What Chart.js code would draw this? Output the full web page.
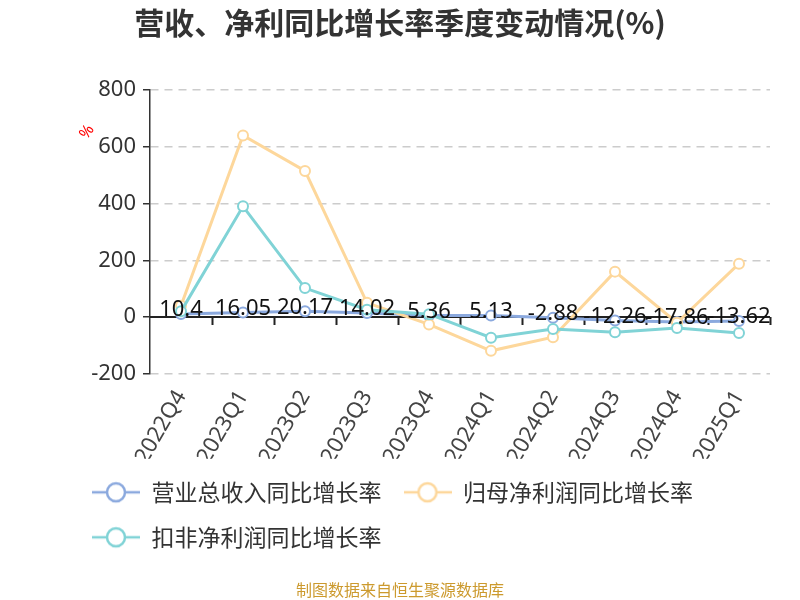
<!DOCTYPE html>
<html>
<head>
<meta charset="utf-8">
<script src="https://cdn.jsdelivr.net/npm/chart.js@4.4.0/dist/chart.umd.min.js"></script>
<style>
html, body { margin: 0; padding: 0; background: #fff; }
</style>
</head>
<body>
<canvas id="growth" width="800" height="600"></canvas>
<script>
// quarters and growth rates (%)
var quarters = ["2022Q4", "2023Q1", "2023Q2", "2023Q3", "2023Q4", "2024Q1", "2024Q2", "2024Q3", "2024Q4", "2025Q1"];
var revenueGrowth = [10.4, 16.05, 20.17, 14.02, 5.36, 5.13, -2.88, -12.26, -17.86, -13.62];
var netProfitGrowth = [40, 640, 515, 50, -26, -119, -71, 160, -20, 188];
var deductedProfitGrowth = [20, 390, 102, 26, 10, -73, -42, -54, -39, -56];
var yTicks = [-200, 0, 200, 400, 600, 800];

var seriesNames = ["营业总收入同比增长率", "归母净利润同比增长率", "扣非净利润同比增长率"];
var seriesColors = ["#8BA9DE", "#FDD79B", "#80D3D6"];

function makeIcon(color) {
    var c = document.createElement("canvas");
    c.width = 48;
    c.height = 24;
    var g = c.getContext("2d");
    g.strokeStyle = color;
    g.lineWidth = 2.5;
    g.beginPath();
    g.moveTo(0, 12);
    g.lineTo(48, 12);
    g.stroke();
    g.beginPath();
    g.arc(24, 12, 9, 0, Math.PI * 2);
    g.fillStyle = "#fff";
    g.fill();
    g.stroke();
    return c;
}
var icons = seriesColors.map(makeIcon);

// x axis drawn on the zero line, with ticks between categories
var zeroAxis = {
    id: "zeroAxis",
    beforeDatasetsDraw: function(chart) {
        var xs = chart.scales.x, ys = chart.scales.y, ctx = chart.ctx;
        var y0 = ys.getPixelForValue(0);
        var half = (xs.getPixelForValue(1) - xs.getPixelForValue(0)) / 2;
        ctx.save();
        ctx.strokeStyle = "#222";
        ctx.lineWidth = 2;
        ctx.beginPath();
        ctx.moveTo(chart.chartArea.left, y0);
        ctx.lineTo(chart.chartArea.right, y0);
        for (var i = 0; i < quarters.length; i++) {
            var px = Math.round(xs.getPixelForValue(i) + half) + 0.5;
            ctx.moveTo(px, y0);
            ctx.lineTo(px, y0 + 8);
        }
        ctx.stroke();
        ctx.restore();
    }
};

// value labels on the revenue line
var valueLabels = {
    id: "valueLabels",
    afterDatasetsDraw: function(chart) {
        var ctx = chart.ctx;
        var meta = chart.getDatasetMeta(0);
        ctx.save();
        ctx.font = '22px "Noto Sans"';
        ctx.fillStyle = "#111";
        ctx.textAlign = "center";
        ctx.textBaseline = "middle";
        meta.data.forEach(function(pt, i) {
            ctx.fillText(String(revenueGrowth[i]), pt.x, pt.y - 4);
        });
        ctx.restore();
    }
};

// "%" axis name
var axisName = {
    id: "axisName",
    afterDraw: function(chart) {
        var ctx = chart.ctx;
        ctx.save();
        ctx.translate(87, 132);
        ctx.rotate(-55 * Math.PI / 180);
        ctx.font = '16px "Noto Sans"';
        ctx.fillStyle = "#f00";
        ctx.textAlign = "center";
        ctx.textBaseline = "middle";
        ctx.fillText("%", 0, 0);
        ctx.restore();
    }
};

// push the legend to line up under the axis labels
var legendShift = {
    id: "legendShift",
    afterLayout: function(chart) {
        if (chart.legend) chart.legend.left = 70;
    }
};

function lineSet(i, values, order) {
    return {
        label: seriesNames[i],
        data: values,
        borderColor: seriesColors[i],
        backgroundColor: seriesColors[i],
        pointBackgroundColor: "#fff",
        pointBorderColor: seriesColors[i],
        pointBorderWidth: 2,
        pointRadius: 5,
        borderWidth: 3,
        tension: 0,
        order: order
    };
}

var chart = new Chart(document.getElementById("growth").getContext("2d"), {
    type: "line",
    data: {
        labels: quarters,
        datasets: [
            lineSet(0, revenueGrowth, 3),
            lineSet(1, netProfitGrowth, 2),
            lineSet(2, deductedProfitGrowth, 1)
        ]
    },
    options: {
        responsive: false,
        animation: false,
        layout: { padding: { left: 30, right: 30, top: 0, bottom: 0 } },
        scales: {
            x: {
                offset: true,
                afterFit: function(s) { s.height = 85; },
                grid: { display: false, drawTicks: false },
                border: { display: false },
                ticks: {
                    color: "#444",
                    font: { size: 22, family: "Noto Sans" },
                    minRotation: 60,
                    maxRotation: 60,
                    padding: 12,
                    autoSkip: false
                }
            },
            y: {
                min: -200,
                max: 800,
                afterBuildTicks: function(s) {
                    s.ticks = yTicks.map(function(v) { return { value: v }; });
                },
                afterFit: function(s) { s.width = 120; },
                ticks: {
                    color: "#333",
                    font: { size: 22, family: "Noto Sans" },
                    padding: 7
                },
                grid: {
                    color: "#ccc",
                    lineWidth: 1.5,
                    tickLength: 7,
                    tickColor: "#333",
                    tickWidth: 1.5
                },
                border: { color: "#333", width: 1.5, dash: [8, 6] }
            }
        },
        plugins: {
            tooltip: { enabled: false },
            title: {
                display: true,
                text: "营收、净利同比增长率季度变动情况(%)",
                color: "#333",
                font: { size: 30, weight: "bold", family: "Noto Sans CJK SC" },
                padding: { top: 5, bottom: 49 }
            },
            subtitle: {
                display: true,
                position: "bottom",
                text: "制图数据来自恒生聚源数据库",
                color: "#CC9A2E",
                font: { size: 16, family: "Noto Sans CJK SC" },
                padding: { top: 22, bottom: 0 }
            },
            legend: {
                position: "bottom",
                align: "start",
                labels: {
                    usePointStyle: true,
                    pointStyleWidth: 48,
                    boxHeight: 20,
                    padding: 22,
                    color: "#333",
                    font: { size: 23, family: "Noto Sans CJK SC" },
                    generateLabels: function(c) {
                        var items = Chart.defaults.plugins.legend.labels.generateLabels(c);
                        items.forEach(function(it) { it.pointStyle = icons[it.datasetIndex]; });
                        return items;
                    },
                    sort: function(a, b) { return a.datasetIndex - b.datasetIndex; }
                }
            }
        }
    },
    plugins: [zeroAxis, valueLabels, axisName, legendShift]
});
</script>
</body>
</html>
